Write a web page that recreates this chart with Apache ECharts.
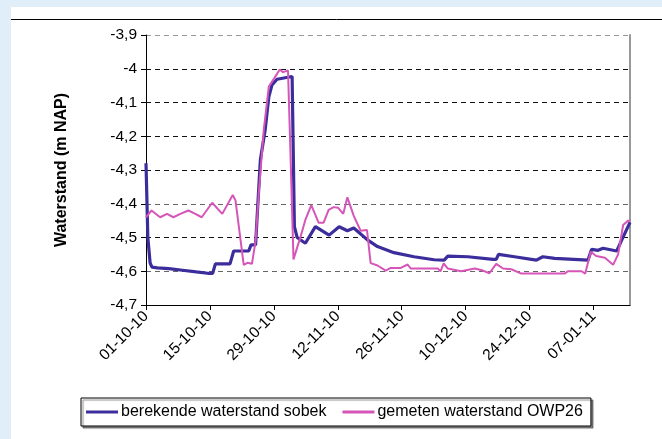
<!DOCTYPE html>
<html>
<head>
<meta charset="utf-8">
<script src="https://cdn.jsdelivr.net/npm/echarts@6/dist/echarts.min.js"></script>
<style>
html,body{margin:0;padding:0;background:#dfeef8;}
#chart{width:662px;height:439px;}
</style>
</head>
<body>
<div id="chart"></div>
<script>
// x values are days since 01-10-2010
const tickDays = [0, 14, 28, 42, 56, 70, 84, 98];
const tickLabels = ['01-10-10', '15-10-10', '29-10-10', '12-11-10', '26-11-10', '10-12-10', '24-12-10', '07-01-11'];
const yTicks = [-4.7, -4.6, -4.5, -4.4, -4.3, -4.2, -4.1, -4.0, -3.9];

const sobekDays = [0, 0.4, 0.9, 1.3, 2.5, 5, 8, 11, 13.5, 14.6, 15.2, 18.4, 19.2, 22.5, 23.0, 24.0, 24.3, 25.05, 26.1, 26.9, 27.6, 28.7, 32.0, 32.2, 32.5, 33.1, 34.9, 35.3, 37.1, 40.1, 42.3, 44.1, 45.5, 48.5, 50.7, 54.3, 58.7, 63.1, 65.3, 66.1, 70.5, 76.0, 76.7, 77.2, 80.7, 85.5, 86.9, 89.5, 96.8, 97.6, 99.0, 100.1, 103.1, 104.2, 106];
const sobekLevels = [-4.28, -4.50, -4.575, -4.588, -4.59, -4.592, -4.597, -4.602, -4.606, -4.606, -4.578, -4.578, -4.540, -4.540, -4.522, -4.522, -4.448, -4.27, -4.181, -4.083, -4.048, -4.031, -4.023, -4.023, -4.468, -4.50, -4.517, -4.522, -4.468, -4.493, -4.468, -4.48, -4.472, -4.507, -4.527, -4.545, -4.557, -4.566, -4.567, -4.555, -4.557, -4.565, -4.565, -4.55, -4.557, -4.567, -4.557, -4.562, -4.567, -4.535, -4.538, -4.532, -4.54, -4.507, -4.455];

const owpDays = [0, 1.2, 3.1, 4.6, 6.0, 7.5, 9.3, 10.8, 12.2, 14.5, 16.7, 19.0, 19.6, 21.4, 22.2, 23.2, 24.0, 24.7, 25.8, 26.9, 28.0, 29.3, 30.0, 31.1, 31.6, 32.3, 33.1, 33.8, 34.9, 36.2, 37.8, 38.9, 40.0, 41.1, 42.1, 43.2, 44.1, 45.5, 47.0, 48.4, 49.2, 50.7, 52.5, 53.6, 55.8, 57.3, 58.0, 63.9, 64.5, 65.2, 66.1, 69.0, 72.0, 73.8, 75.2, 76.7, 78.2, 80.0, 82.2, 91.7, 92.4, 95.4, 96.2, 97.4, 98.6, 100.5, 102.3, 103.4, 104.5, 105.6, 106];
const owpLevels = [-4.44, -4.42, -4.44, -4.43, -4.44, -4.43, -4.42, -4.43, -4.44, -4.397, -4.43, -4.374, -4.39, -4.581, -4.575, -4.578, -4.51, -4.369, -4.18, -4.053, -4.03, -4.002, -4.01, -4.005, -4.231, -4.565, -4.53, -4.50, -4.448, -4.404, -4.456, -4.456, -4.418, -4.41, -4.412, -4.43, -4.381, -4.436, -4.48, -4.478, -4.576, -4.583, -4.598, -4.59, -4.59, -4.58, -4.592, -4.592, -4.60, -4.577, -4.592, -4.60, -4.592, -4.598, -4.606, -4.578, -4.592, -4.594, -4.607, -4.607, -4.60, -4.60, -4.607, -4.542, -4.555, -4.56, -4.581, -4.55, -4.463, -4.45, -4.45];

const seriesNames = ['berekende waterstand sobek', 'gemeten waterstand OWP26'];

const zip = (a, b) => a.map((d, i) => [d, b[i]]);
const FONT = 'Liberation Sans, Arial, sans-serif';

const chart = echarts.init(document.getElementById('chart'), null, {renderer: 'canvas'});
chart.setOption({
  backgroundColor: '#dfeef8',
  animation: false,
  textStyle: {fontFamily: FONT},
  graphic: [
    {type: 'rect', z: -100, silent: true, shape: {x: 11, y: 7, width: 651, height: 432}, style: {fill: '#ffffff'}},
    {type: 'line', z: 100, silent: true, shape: {x1: 11, y1: 19.5, x2: 662, y2: 19.5}, style: {stroke: '#000', lineWidth: 1}}
  ],
  grid: {left: 146, right: 32, top: 35, bottom: 134},
  legend: {
    data: seriesNames,
    left: 81, top: 398,
    padding: [6, 8, 6, 5],
    itemGap: 16,
    itemWidth: 32, itemHeight: 3,
    icon: 'rect',
    backgroundColor: '#fff',
    borderColor: '#000', borderWidth: 1,
    shadowColor: 'rgba(0,0,0,0.45)', shadowBlur: 1, shadowOffsetX: 2, shadowOffsetY: 2,
    textStyle: {fontFamily: FONT, fontSize: 16, color: '#000', padding: [0, 0, 0, -2]}
  },
  xAxis: {
    type: 'value', min: 0, max: 106, interval: 14,
    axisLine: {show: true, lineStyle: {color: '#000', width: 1}},
    axisTick: {show: true, length: 5, lineStyle: {color: '#000'}, customValues: tickDays},
    splitLine: {show: false},
    axisLabel: {
      customValues: tickDays,
      rotate: 45, margin: 9,
      fontFamily: FONT, fontSize: 15.5, color: '#000',
      formatter: v => { const i = tickDays.indexOf(Math.round(v)); return i >= 0 ? tickLabels[i] : ''; }
    }
  },
  yAxis: [{
    type: 'value', min: -4.7, max: -3.9, interval: 0.1,
    name: 'Waterstand (m NAP)', nameLocation: 'middle', nameGap: 76,
    nameTextStyle: {fontFamily: FONT, fontSize: 16, fontWeight: 'bold', color: '#000'},
    axisLine: {show: true, lineStyle: {color: '#000', width: 1}},
    axisTick: {show: true, length: 5, lineStyle: {color: '#000'}},
    axisLabel: {
      margin: 9, fontFamily: FONT, fontSize: 15.5, color: '#000',
      formatter: v => String(+(+v).toFixed(1)).replace('.', ',')
    },
    splitLine: {show: true, lineStyle: {type: [5, 4], width: 1,
      color: ['#000', '#666', '#111', '#666', '#111', '#111', '#111', '#111', '#999']}}
  }, {
    type: 'value', min: -4.7, max: -3.9, interval: 0.1, position: 'right',
    axisLine: {show: true, lineStyle: {color: '#999', width: 2}},
    axisTick: {show: false}, axisLabel: {show: false}, splitLine: {show: false}
  }],
  series: [
    {name: seriesNames[0], type: 'line', showSymbol: false, symbol: 'none', z: 3,
     data: zip(sobekDays, sobekLevels),
     lineStyle: {color: '#3b2d9b', width: 3.2}, itemStyle: {color: '#3b2d9b'}},
    {name: seriesNames[1], type: 'line', showSymbol: false, symbol: 'none', z: 4,
     data: zip(owpDays, owpLevels),
     lineStyle: {color: '#d655b8', width: 2}, itemStyle: {color: '#d655b8'}}
  ]
});
</script>
</body>
</html>
